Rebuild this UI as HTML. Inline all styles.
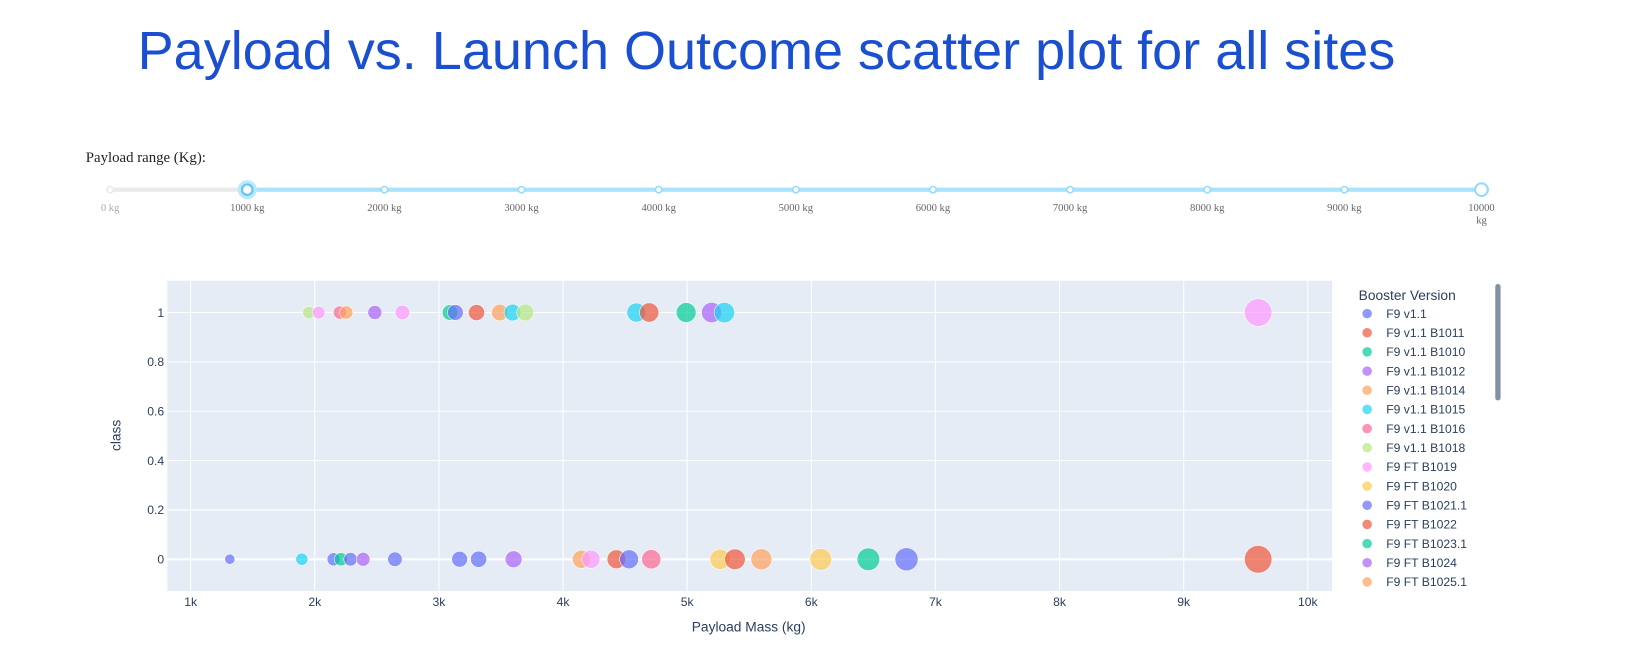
<!DOCTYPE html>
<html><head><meta charset="utf-8"><style>
html,body{margin:0;padding:0;background:#fff;width:1652px;height:660px;overflow:hidden}
svg{display:block}
</style></head><body>
<svg id="root" width="1652" height="660" viewBox="0 0 1560 623" xmlns="http://www.w3.org/2000/svg">
<text x="130" y="65" font-family="Liberation Sans, sans-serif" font-size="51" fill="#1a4fcf">Payload vs. Launch Outcome scatter plot for all sites</text>
<text x="81" y="153" font-family="Liberation Serif, serif" font-size="14" fill="#222">Payload range (Kg):</text>
<g id="slider"></g>
<g id="plot"></g>
</svg>
<script>
const NS="http://www.w3.org/2000/svg";
const sliderMarks=[0,1000,2000,3000,4000,5000,6000,7000,8000,9000,10000];
const sliderValue=[1000,10000];
const versions=["F9 v1.1","F9 v1.1 B1011","F9 v1.1 B1010","F9 v1.1 B1012","F9 v1.1 B1014","F9 v1.1 B1015","F9 v1.1 B1016","F9 v1.1 B1018","F9 FT B1019","F9 FT B1020","F9 FT B1021.1","F9 FT B1022","F9 FT B1023.1","F9 FT B1024","F9 FT B1025.1"];
const colors=["#636efa","#EF553B","#00cc96","#ab63fa","#FFA15A","#19d3f3","#FF6692","#B6E880","#FF97FF","#FECB52"];
const payloads=[1952,2032,2203,2254,2484,2706,3090,3133,3303,3491,3593,3696,4591,4694,4992,5197,5300,9600,
1316,1896,2152,2211,2288,2390,2646,3167,3320,3602,4148,4225,4430,4532,4711,5265,5385,5598,6076,6460,6767,9600];
const outcomes=[1,1,1,1,1,1,1,1,1,1,1,1,1,1,1,1,1,1,
0,0,0,0,0,0,0,0,0,0,0,0,0,0,0,0,0,0,0,0,0,0];
const boosterIdx=[7,8,6,4,3,8,2,0,1,4,5,7,5,1,2,3,5,8,
0,5,0,2,10,3,10,10,10,3,4,8,11,10,6,9,11,4,9,12,10,11];
const xTicks=[1000,2000,3000,4000,5000,6000,7000,8000,9000,10000];
const xTickLabels=["1k","2k","3k","4k","5k","6k","7k","8k","9k","10k"];
const yTicks=[0,0.2,0.4,0.6,0.8,1];
const yTickLabels=["0","0.2","0.4","0.6","0.8","1"];

function mk(tag,attrs,parent,text){const e=document.createElementNS(NS,tag);for(const k in attrs)e.setAttribute(k,attrs[k]);if(text!==undefined)e.textContent=text;parent.appendChild(e);return e;}

const sl=document.getElementById('slider');
const sx=v=>104+v*(1399-104)/10000;
mk('line',{x1:sx(0),y1:179,x2:sx(10000),y2:179,stroke:'#e9e9e9','stroke-width':4},sl);
mk('line',{x1:sx(sliderValue[0]),y1:179,x2:sx(sliderValue[1]),y2:179,stroke:'#abe2fb','stroke-width':4},sl);
sliderMarks.forEach(m=>{
  const act=m>=sliderValue[0]&&m<=sliderValue[1];
  const c=mk('circle',{cx:sx(m),cy:179,r:3,fill:'#fff',stroke:act?'#96dbfa':'#e9e9e9','stroke-width':1.5},sl);
  
  
  const lines=m===10000?["10000","kg"]:[m+" kg"];
  lines.forEach((s,i)=>{
    const t=mk('text',{x:sx(m),y:199+i*12,'text-anchor':'middle','font-family':'Liberation Serif, serif','font-size':10,fill:act?'#666':'#aaa'},sl,s);
    
    
  });
});
let h=mk('circle',{cx:sx(sliderValue[0]),cy:179,r:9,fill:'#bde8fc'},sl);


h=mk('circle',{cx:sx(sliderValue[0]),cy:179,r:5,fill:'#fff',stroke:'#5cc8f5','stroke-width':2},sl);


h=mk('circle',{cx:sx(sliderValue[1]),cy:179,r:6,fill:'#fff',stroke:'#96dbfa','stroke-width':2},sl);



const p=document.getElementById('plot');
const L=158,R=1258,T=265,B=558;
const X=v=>180+(v-1000)*(1235-180)/9000;
const Y=v=>528-v*(528-295);
mk('rect',{x:L,y:T,width:R-L,height:B-T,fill:'#e5ecf6'},p);
xTicks.forEach((v,i)=>{
  mk('line',{x1:X(v),y1:T,x2:X(v),y2:B,stroke:'#fff','stroke-width':1},p);
  const t=mk('text',{x:X(v),y:572,'text-anchor':'middle','font-family':'Liberation Sans, sans-serif','font-size':11.5,fill:'#2a3f5f'},p,xTickLabels[i]);
  
  
});
yTicks.forEach((v,i)=>{
  mk('line',{x1:L,y1:Y(v),x2:R,y2:Y(v),stroke:'#fff','stroke-width':v===0?2:1},p);
  const t=mk('text',{x:155,y:Y(v)+4,'text-anchor':'end','font-family':'Liberation Sans, sans-serif','font-size':11.5,fill:'#2a3f5f'},p,yTickLabels[i]);
  
  
});
let t=mk('text',{x:707,y:596,'text-anchor':'middle','font-family':'Liberation Sans, sans-serif','font-size':13,fill:'#2a3f5f'},p,'Payload Mass (kg)');


t=mk('text',{x:0,y:0,'text-anchor':'middle','font-family':'Liberation Sans, sans-serif','font-size':13,fill:'#2a3f5f',transform:'translate(114,411) rotate(-90)'},p,'class');


const maxP=Math.max(...payloads);
payloads.forEach((v,i)=>{
  const c=mk('circle',{cx:X(v),cy:Y(outcomes[i]),r:13*Math.sqrt(v/maxP),fill:colors[boosterIdx[i]%10],'fill-opacity':0.7,stroke:'#fff','stroke-width':0.5},p);
  
  
});
t=mk('text',{x:1283,y:283,'font-family':'Liberation Sans, sans-serif','font-size':13,fill:'#2a3f5f'},p,'Booster Version');


versions.forEach((v,i)=>{
  const y=296+i*18.1;
  const g=mk('g',{},p);
  
  
  mk('circle',{cx:1291,cy:y,r:4.5,fill:colors[i%10],'fill-opacity':0.7},g);
  mk('text',{x:1309,y:y+4,'font-family':'Liberation Sans, sans-serif','font-size':11.5,fill:'#2a3f5f'},g,v);
});
const sb=mk('rect',{x:1412,y:268,width:5,height:110,rx:2.5,fill:'#8091a5'},p);


</script>
</body></html>
